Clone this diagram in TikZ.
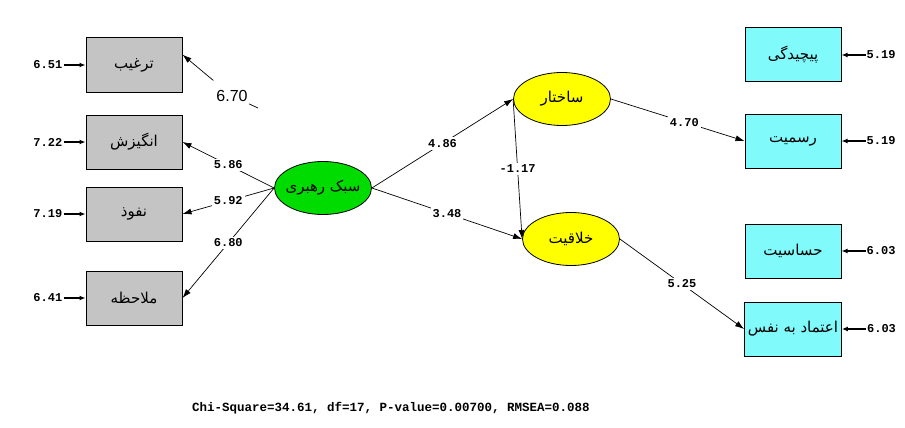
\documentclass[tikz,border=0pt]{standalone}
\usepackage{fontspec}
\setmainfont{Liberation Sans}
\setmonofont{Liberation Mono}
\newfontfamily\farsifont[Script=Arabic]{DejaVu Sans}
\TeXXeTstate=1
\newcommand{\fatxt}[1]{{\farsifont\beginR #1\endR}}
\usetikzlibrary{arrows.meta, positioning, shapes.geometric}
\definecolor{obsgray}{RGB}{196,196,196}
\definecolor{obscyan}{RGB}{128,250,250}
\definecolor{latgreen}{RGB}{0,220,0}
\definecolor{latyellow}{RGB}{255,255,0}

\begin{document}
\begin{tikzpicture}[x=1pt, y=-1pt,
    graybox/.style={draw, line width=1pt, fill=obsgray, minimum width=96pt, minimum height=54pt, font=\fontsize{15}{17}\selectfont},
    cyanbox/.style={draw, line width=1pt, fill=obscyan, minimum width=96pt, minimum height=54pt, font=\fontsize{15}{17}\selectfont},
    latent/.style={draw, ellipse, line width=0.8pt, minimum width=97pt, minimum height=53pt, inner xsep=-4pt, inner ysep=0pt, font=\fontsize{15}{17}\selectfont},
    errlbl/.style={font=\ttfamily\bfseries\fontsize{12}{13}\selectfont, inner sep=1pt},
    plbl/.style={font=\ttfamily\bfseries\fontsize{12}{13}\selectfont, fill=white, inner sep=2pt},
    arr/.style={-{Latex[length=9pt,width=6pt]}, line width=0.7pt},
    earr/.style={-{Latex[length=6pt,width=5pt]}, line width=1.4pt}
]
\useasboundingbox (0,0) rectangle (905,428);

% left indicators
\node[graybox] (tar) at (134,65) {\fatxt{ترغیب}};
\node[graybox] (ang) at (134,142) {\fatxt{انگیزش}};
\node[graybox] (nof) at (134,214) {\fatxt{نفوذ}};
\node[graybox] (mol) at (134,298) {\fatxt{ملاحظه}};

% latent variables
\node[latent, fill=latgreen] (sabk) at (323,188) {\fatxt{سبک رهبری}};
\node[latent, fill=latyellow] (sakh) at (562,99) {\fatxt{ساختار}};
\node[latent, fill=latyellow] (khal) at (571,239) {\fatxt{خلاقیت}};

% right indicators
\node[cyanbox] (pich) at (793,55) {\fatxt{پیچیدگی}};
\node[cyanbox] (rasm) at (793,141) {\fatxt{رسمیت}};
\node[cyanbox] (hass) at (793,251) {\fatxt{حساسیت}};
\node[cyanbox] (etem) at (793,329) {\fatxt{اعتماد به نفس}};

% error terms
\node[errlbl, left=22pt of tar] (etar) {6.51};
\node[errlbl, left=22pt of ang] (eang) {7.22};
\node[errlbl, left=22pt of nof] (enof) {7.19};
\node[errlbl, left=22pt of mol] (emol) {6.41};
\node[errlbl, right=24pt of pich] (epich) {5.19};
\node[errlbl, right=24pt of rasm] (erasm) {5.19};
\node[errlbl, right=24pt of hass] (ehass) {6.03};
\node[errlbl, right=24pt of etem] (eetem) {6.03};

\draw[earr] (etar) -- (tar);
\draw[earr] (eang) -- (ang);
\draw[earr] (enof) -- (nof);
\draw[earr] (emol) -- (mol);
\draw[earr] (epich) -- (pich);
\draw[earr] (erasm) -- (rasm);
\draw[earr] (ehass) -- (hass);
\draw[earr] (eetem) -- (etem);

% loadings
\coordinate (c670) at (258,108);
\node[font=\fontsize{16}{18}\selectfont, inner sep=2pt] (l670) at (232,96) {6.70};
\draw[line width=0.7pt] (c670) -- (l670);
\draw[arr, shorten <=12pt] (l670) -- (tar.12);
\draw[arr] (sabk.west) -- node[plbl] {5.86} (ang.east);
\draw[arr] (sabk.west) -- node[plbl] {5.92} (nof.east);
\draw[arr] (sabk.west) -- node[plbl] {6.80} (mol.east);

% structural paths
\draw[arr] (sabk.east) -- node[plbl] {4.86} (sakh.west);
\draw[arr] (sabk.east) -- node[plbl] {3.48} (khal.west);
\draw[arr] (sakh.west) -- node[plbl] {-1.17} (khal.west);
\draw[arr] (sakh.east) -- node[plbl, pos=0.55] {4.70} (rasm.west);
\draw[arr] (khal.east) -- node[plbl] {5.25} (etem.west);

% fit indices
\node[font=\ttfamily\bfseries\fontsize{12.5}{14}\selectfont] (fit) at (391,408) {Chi-Square=34.61, df=17, P-value=0.00700, RMSEA=0.088};
\end{tikzpicture}
\end{document}
